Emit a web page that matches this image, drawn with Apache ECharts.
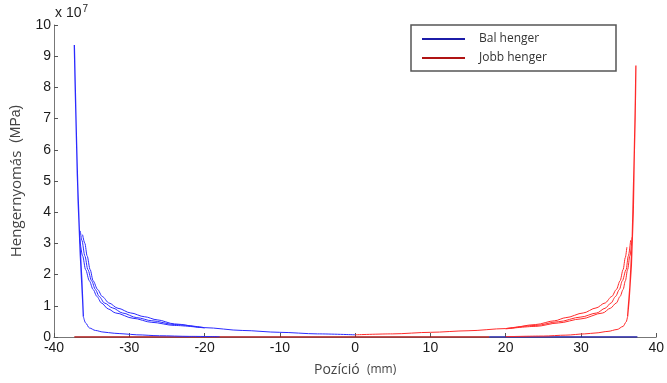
<!DOCTYPE html>
<html>
<head>
<meta charset="utf-8">
<script src="https://cdn.jsdelivr.net/npm/echarts@6/dist/echarts.min.js"></script>
<style>
  html, body { margin: 0; padding: 0; background: #fff; }
  #chart { width: 667px; height: 383px; }
</style>
</head>
<body>
<div id="chart"></div>
<script>
// tengely beosztás
const xTicks = [-40, -30, -20, -10, 0, 10, 20, 30, 40];
const yTicks = [0, 1, 2, 3, 4, 5, 6, 7, 8, 9, 10];

// Bal henger (x [mm], nyomás [x10^7])
const balCurveA = [[0, 0.07], [-5, 0.1], [-10, 0.15], [-15, 0.21], [-20, 0.3], [-24, 0.42], [-26.3, 0.55], [-28, 0.65], [-29.8, 0.77], [-31.5, 0.92], [-32.7, 1.09], [-33.6, 1.3], [-34.2, 1.52], [-34.8, 1.8], [-35.2, 2.16], [-35.6, 2.6], [-35.9, 3.0], [-36.2, 3.28]];
const balCurveB = [[-20, 0.3], [-24, 0.4], [-27, 0.52], [-29, 0.62], [-30.9, 0.77], [-32.2, 0.93], [-33.3, 1.09], [-34.0, 1.3], [-34.5, 1.52], [-35.0, 1.8], [-35.5, 2.16], [-35.9, 2.6], [-36.3, 3.1], [-36.5, 3.4]];
const balCurveC = [[-20, 0.29], [-24, 0.37], [-27, 0.47], [-29.5, 0.6], [-31.8, 0.77], [-32.8, 0.9], [-33.7, 1.09], [-34.3, 1.3], [-34.8, 1.52], [-35.3, 1.8], [-35.8, 2.16], [-36.2, 2.6], [-36.6, 3.2]];
const balSpike = [[-36.1, 0.66], [-36.3, 1.8], [-36.6, 3.2], [-36.9, 5.2], [-37.1, 7.2], [-37.3, 9.36], [-37.2, 8.2], [-37.0, 6.2], [-36.8, 4.4], [-36.5, 2.6], [-36.2, 1.2], [-36.1, 0.66]];
const balLower = [[-36.1, 0.66], [-35.8, 0.45], [-35.3, 0.29], [-34.5, 0.21], [-33.5, 0.16], [-32, 0.12], [-30.7, 0.1], [-29, 0.07], [-26, 0.04], [-22, 0.02], [-18, 0.01]];
const balZero = [[17.8, 0], [37.5, 0]];

// Jobb henger
const jobbCurveA = [[0, 0.07], [5, 0.1], [10, 0.15], [15, 0.2], [20, 0.27], [24, 0.4], [26.5, 0.52], [28, 0.62], [30.3, 0.77], [32, 0.93], [33.2, 1.09], [34.1, 1.3], [34.7, 1.52], [35.2, 1.8], [35.6, 2.16], [35.9, 2.55], [36.1, 2.88]];
const jobbCurveB = [[20, 0.27], [24, 0.37], [27, 0.49], [30, 0.64], [32.1, 0.77], [33.2, 0.92], [34.0, 1.09], [34.6, 1.3], [35.1, 1.52], [35.5, 1.8], [36.0, 2.16], [36.3, 2.6], [36.6, 3.1]];
const jobbCurveC = [[20, 0.26], [24, 0.34], [27, 0.45], [30, 0.58], [32.9, 0.77], [33.9, 0.92], [34.7, 1.09], [35.2, 1.3], [35.6, 1.52], [35.9, 1.8], [36.2, 2.16], [36.5, 2.6], [36.8, 3.2]];
const jobbSpike = [[36.2, 0.66], [36.5, 1.6], [36.8, 3.0], [37.0, 5.0], [37.2, 7.0], [37.3, 8.7], [37.25, 7.8], [37.1, 6.0], [36.95, 4.0], [36.7, 2.3], [36.4, 1.2], [36.2, 0.66]];
const jobbLower = [[36.2, 0.66], [36.0, 0.48], [35.6, 0.34], [34.8, 0.24], [33.6, 0.18], [32, 0.13], [30.5, 0.1], [28, 0.06], [25, 0.03], [20, 0.01]];
const jobbZero = [[-37.3, 0], [17.8, 0]];

const blue = '#2b2bff';
const red = '#ff2a2a';

function mk(name, data, color, width, smooth) {
    return {
        name: name,
        type: 'line',
        data: data,
        showSymbol: false,
        symbol: 'none',
        smooth: smooth ? 0.3 : false,
        smoothMonotone: 'x',
        color: color,
        lineStyle: { color: color, width: width || 1 },
        emphasis: { disabled: true }
    };
}

const chart = echarts.init(document.getElementById('chart'));

const option = {
    animation: false,
    grid: { left: 54, right: 5, top: 25, bottom: 46 },
    legend: {
        left: 417,
        top: 28,
        orient: 'vertical',
        itemWidth: 43,
        itemHeight: 2,
        itemGap: 7,
        icon: 'rect',
        data: ['Bal henger', 'Jobb henger'],
        textStyle: { fontFamily: 'Open Sans', fontSize: 12, color: '#333', padding: [0, 0, 0, 9] }
    },
    xAxis: {
        type: 'value',
        min: -40,
        max: 40,
        interval: 10,
        name: 'Pozíció  {s|(mm)}',
        nameLocation: 'middle',
        nameGap: 26,
        nameTextStyle: {
            fontFamily: 'Open Sans', fontSize: 14, color: '#444',
            rich: { s: { fontFamily: 'Open Sans', fontSize: 12, color: '#444' } }
        },
        splitLine: { show: false },
        axisLine: { show: true, onZero: false, lineStyle: { color: '#777', width: 1 } },
        axisTick: { show: true, inside: true, length: 4, lineStyle: { color: '#555' } },
        axisLabel: { fontFamily: 'Liberation Sans', fontSize: 14, color: '#1a1a1a', margin: 4 }
    },
    yAxis: {
        type: 'value',
        min: 0,
        max: 10,
        interval: 1,
        name: 'Hengernyomás  {s|(MPa)}',
        nameLocation: 'middle',
        nameGap: 30,
        nameTextStyle: {
            fontFamily: 'Open Sans', fontSize: 15, color: '#444',
            rich: { s: { fontFamily: 'Liberation Sans', fontSize: 14, color: '#444' } }
        },
        splitLine: { show: false },
        axisLine: { show: true, onZero: false, lineStyle: { color: '#777', width: 1 } },
        axisTick: { show: true, inside: true, length: 4, lineStyle: { color: '#555' } },
        axisLabel: { fontFamily: 'Liberation Sans', fontSize: 14, color: '#1a1a1a', margin: 3 }
    },
    graphic: [
        {
            type: 'rect',
            shape: { x: 411, y: 25, width: 205, height: 46 },
            style: { fill: '#fff', stroke: '#555', lineWidth: 1.5 },
            z: 0
        },
        {
            type: 'text',
            left: 55,
            top: 4,
            style: {
                text: 'x 10{e|7}',
                fontFamily: 'Liberation Sans',
                fontSize: 14,
                fill: '#222',
                rich: { e: { fontSize: 10, fill: '#222', verticalAlign: 'top', padding: [0, 0, 9, 1] } }
            }
        }
    ],
    series: [
        mk('Bal henger', balZero, '#1c1ca8', 1.5),
        mk('Jobb henger', jobbZero, '#b01414', 1.5),
        mk('Bal henger', balCurveA, blue, 1, true),
        mk('Bal henger', balCurveB, blue, 1, true),
        mk('Bal henger', balCurveC, blue, 1, true),
        mk('Bal henger', balLower, blue, 1, true),
        mk('Bal henger', balSpike, blue, 1.3),
        mk('Jobb henger', jobbCurveA, red, 1, true),
        mk('Jobb henger', jobbCurveB, red, 1, true),
        mk('Jobb henger', jobbCurveC, red, 1, true),
        mk('Jobb henger', jobbLower, red, 1, true),
        mk('Jobb henger', jobbSpike, red, 1.3)
    ]
};

chart.setOption(option);
</script>
</body>
</html>
